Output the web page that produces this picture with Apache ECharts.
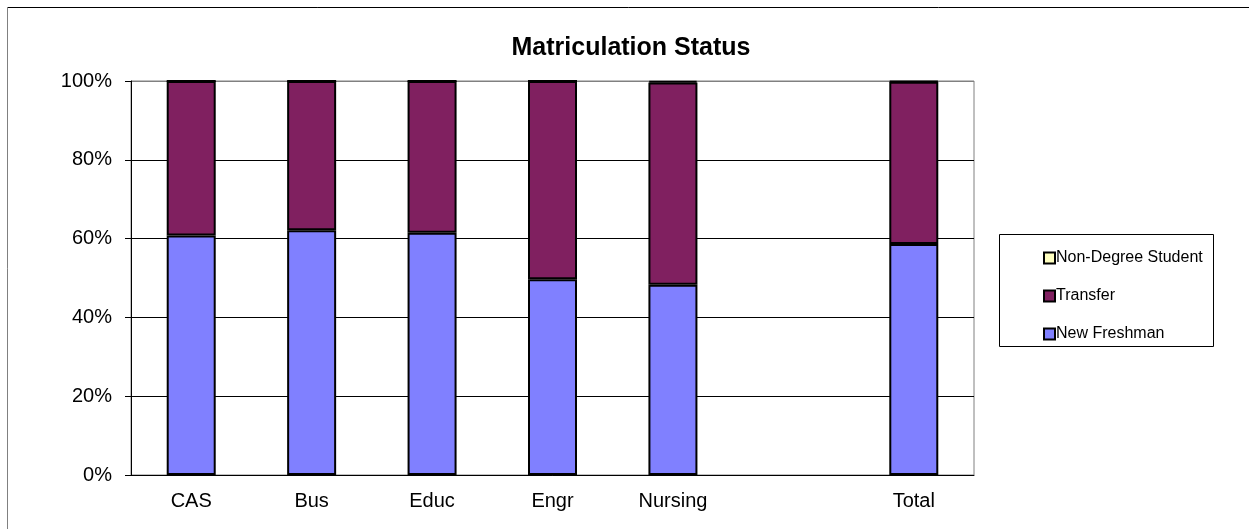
<!DOCTYPE html>
<html>
<head>
<meta charset="utf-8">
<title>Matriculation Status</title>
<script src="https://cdn.jsdelivr.net/npm/echarts@6/dist/echarts.min.js"></script>
<style>
  html, body { margin: 0; padding: 0; background: #fff; }
  #chart { width: 1249px; height: 529px; }
</style>
</head>
<body>
<div id="chart"></div>
<script>
// categories on the x axis (one empty slot before Total)
var categories = ['CAS', 'Bus', 'Educ', 'Engr', 'Nursing', '', 'Total'];
// percentage shares per college
var newFreshman = [60.8, 62.1, 61.5, 49.7, 48.3, null, 58.6];
var transfer    = [39.2, 37.9, 38.5, 50.3, 51.3, null, 41.2];
var nonDegree   = [0, 0, 0, 0, 0.4, null, 0.2];
// y axis ticks
var yTicks = [0, 20, 40, 60, 80, 100];

var font = "'Liberation Sans', Arial, sans-serif";

var myChart = echarts.init(document.getElementById('chart'));

function barSeries(name, data, color) {
    return {
        name: name,
        type: 'bar',
        stack: 'all',
        barWidth: 49,
        data: data,
        itemStyle: { color: color, borderColor: '#000', borderWidth: 2 },
        emphasis: { disabled: true }
    };
}

var option = {
    animation: false,
    backgroundColor: '#fff',
    textStyle: { fontFamily: font, color: '#000' },
    grid: {
        left: 131, right: 275, top: 81, bottom: 54,
        show: true, borderColor: '#808080', borderWidth: 1
    },
    legend: {
        orient: 'vertical',
        left: 1038,
        top: 245,
        itemGap: 22,
        itemWidth: 11,
        itemHeight: 11,
        icon: 'rect',
        selectedMode: false,
        itemStyle: { borderColor: '#000', borderWidth: 2 },
        textStyle: { fontFamily: font, fontSize: 16, color: '#000', padding: [0, 0, 0, -4] },
        data: ['Non-Degree Student', 'Transfer', 'New Freshman']
    },
    xAxis: {
        type: 'category',
        data: categories,
        axisLine: { lineStyle: { color: '#000', width: 1 } },
        axisTick: { length: 7, lineStyle: { color: '#000' } },
        axisLabel: { fontFamily: font, fontSize: 20, color: '#000', margin: 16 }
    },
    yAxis: {
        type: 'value',
        min: yTicks[0],
        max: yTicks[yTicks.length - 1],
        interval: 20,
        axisLine: { show: true, lineStyle: { color: '#000', width: 1 } },
        axisTick: { show: true, length: 6, lineStyle: { color: '#000' } },
        axisLabel: { fontFamily: font, fontSize: 20, color: '#000', margin: 19, formatter: '{value}%' },
        splitLine: { lineStyle: { color: ['#000', '#000', '#000', '#000', '#000', '#808080'], width: 1 } }
    },
    series: [
        barSeries('New Freshman', newFreshman, '#8080FF'),
        barSeries('Transfer', transfer, '#802060'),
        barSeries('Non-Degree Student', nonDegree, '#FFFFC0')
    ],
    graphic: [
        // outer chart border (right and bottom lie outside the picture)
        { type: 'line', shape: { x1: 7.5, y1: 7.5, x2: 1249, y2: 7.5 }, style: { stroke: '#000', lineWidth: 1 } },
        { type: 'line', shape: { x1: 7.5, y1: 7.5, x2: 7.5, y2: 529 }, style: { stroke: '#808080', lineWidth: 1 } },
        // legend box
        { type: 'rect', shape: { x: 999.5, y: 234.5, width: 214, height: 112 }, style: { fill: 'none', stroke: '#000', lineWidth: 1 } },
        // cross part of x ticks above the axis line
        // title
        {
            type: 'text', x: 631, y: 48,
            style: {
                text: 'Matriculation Status', fontFamily: font, fontSize: 25, fontWeight: 'bold',
                fill: '#000', align: 'center', verticalAlign: 'middle'
            }
        }
    ]
};

myChart.setOption(option);
</script>
</body>
</html>
